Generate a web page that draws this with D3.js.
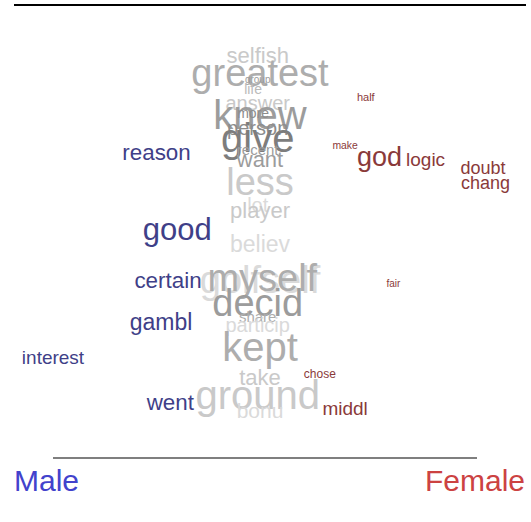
<!DOCTYPE html>
<head>
    <meta charset="utf-8">
    <script src="https://d3js.org/d3.v7.min.js"></script>
</head>
<body style="background: white; margin: 0">
    <div id="my_dataviz"></div>
    <script>
        // words, their group (M = male, F = female, N = neutral), score (-1 male .. 1 female),
        // rank position top->bottom, frequency and grey shade for neutral words
        var words  = ["selfish","greatest","group","life","answer","knew","more","person","give","recent","want","less","lot","player","believ","golfself","myself","decid","share","particip","kept","take","ground","bonu",
                      "reason","good","certain","gambl","interest","went",
                      "half","make","god","logic","doubt","chang","fair","chose","middl"];
        var groups = ["N","N","N","N","N","N","N","N","N","N","N","N","N","N","N","N","N","N","N","N","N","N","N","N",
                      "M","M","M","M","M","M",
                      "F","F","F","F","F","F","F","F","F"];
        var scores = [-0.01,0.00,-0.01,-0.03,-0.01,0.00,-0.03,-0.01,-0.01,-0.01,0.00,0.00,-0.01,0.00,0.00,0.00,0.01,-0.01,-0.01,-0.01,0.00,0.00,-0.01,0.00,
                      -0.45,-0.36,-0.40,-0.43,-0.90,-0.39,
                      0.46,0.37,0.52,0.72,0.97,0.98,0.58,0.26,0.37];
        var ranks  = [1.4,6.2,8.1,10.5,14.3,17.6,17.0,21.1,23.8,27.0,29.7,35.7,41.9,43.5,52.4,62.2,61.6,68.4,71.9,74.3,80.3,88.6,93.2,97.3,
                      27.6,48.6,62.4,73.5,83.2,95.4,
                      12.7,25.7,28.9,29.5,31.9,35.9,63.0,87.6,96.8];
        var freqs  = [35,75,5,15,30,80,15,30,80,17.5,35,75,30,35,37.5,75,75,75,17.5,30,80,35,80,32.5,
                      36,57.5,36,37.5,27.5,36,
                      7.5,6,47.5,27.5,25,25,5,10,27.5];
        var shades = [0.2,0.45,0.6,0.33,0.2,0.6,0.73,0.73,0.87,0.6,0.6,0.2,0.05,0.2,0.05,0.05,0.45,0.6,0.45,0.05,0.45,0.2,0.2,0.05,
                      0,0,0,0,0,0,
                      0,0,0,0,0,0,0,0,0];
        var sides = ["Male", "Female"];

        var width = 531, height = 522;

        var svg = d3.select("#my_dataviz")
            .append("svg")
            .attr("width", width)
            .attr("height", height)
            .style("font-family", "'Liberation Sans', Arial, sans-serif");

        var x = d3.scaleLinear().domain([-1, 1]).range([30, 490]);
        var y = d3.scaleLinear().domain([0, 100]).range([50, 420]);
        var size = d3.scaleLinear().domain([0, 100]).range([8, 48]);
        var grey = d3.scaleLinear().domain([0, 1]).range(["#e0e0e0", "#6e6e6e"]);
        var groupColor = { M: "#3f3f88", F: "#8a3a3a" };

        var data = words.map(function (w, i) {
            return { word: w, group: groups[i], score: scores[i], rank: ranks[i], freq: freqs[i], shade: shades[i] };
        });

        // top rule
        svg.append("line")
            .attr("x1", 14).attr("x2", 526)
            .attr("y1", 5).attr("y2", 5)
            .attr("stroke", "#000").attr("stroke-width", 2);

        svg.selectAll(".word")
            .data(data)
            .enter()
            .append("text")
            .attr("class", "word")
            .attr("x", function (d) { return x(d.score) })
            .attr("y", function (d) { return y(d.rank) })
            .attr("text-anchor", "middle")
            .attr("dominant-baseline", "central")
            .style("font-size", function (d) { return size(d.freq) + "px" })
            .style("fill", function (d) {
                if (d.group == "N") {
                    return grey(d.shade);
                }
                return groupColor[d.group];
            })
            .text(function (d) { return d.word });

        // bottom axis line
        svg.append("line")
            .attr("x1", 53).attr("x2", 477)
            .attr("y1", 458).attr("y2", 458)
            .attr("stroke", "#555").attr("stroke-width", 1.5);

        svg.append("text")
            .attr("x", 14).attr("y", 491)
            .style("font-size", "30px")
            .style("fill", "#4242cc")
            .text(sides[0]);

        svg.append("text")
            .attr("x", 525).attr("y", 491)
            .attr("text-anchor", "end")
            .style("font-size", "30px")
            .style("fill", "#cc4242")
            .text(sides[1]);
    </script>
</body>
</html>
